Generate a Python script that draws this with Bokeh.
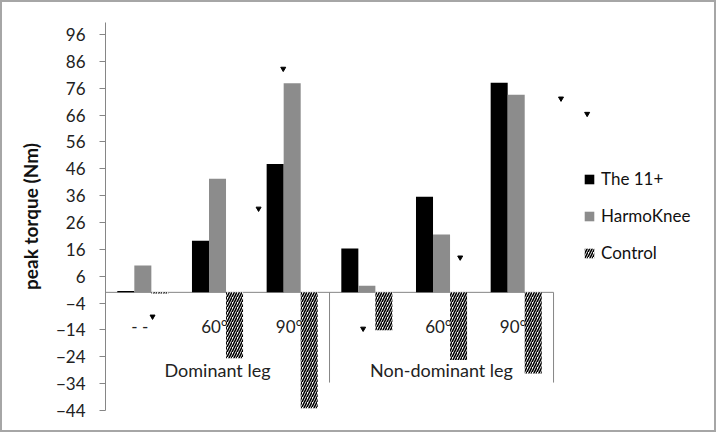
from bokeh.plotting import figure
from bokeh.models import Range1d, FixedTicker, Legend, LegendItem
from bokeh.embed import file_html
from bokeh.resources import INLINE
from bokeh.core.properties import value
import numpy as np

# ---- data ----
groups = ["Dominant leg", "Non-dominant leg"]
angle_labels = ["- -", "60°", "90°", "", "60°", "90°"]
series = ["The 11+", "HarmoKnee", "Control"]
the11 = [0.5, 19.2, 47.8, 16.3, 35.6, 78.1]
harmo = [10.0, 42.3, 77.9, 2.5, 21.5, 73.6]
control = [-0.4, -24.5, -43.2, -14.1, -25.2, -30.2]
y_ticks = list(range(-44, 97, 10))
# small significance-like marks scattered in the original picture
mark_cat = [0, 2, 2, 3, 4, 5, 5]
mark_off = [0.13, -0.45, -0.12, -0.05, 0.25, 0.6, 0.95]
mark_y = [-9.0, 31.2, 83.3, -13.5, 13.0, 72.2, 66.5]

FONT = "Lato"
n = len(angle_labels)
xc = np.arange(n) + 0.5
bw = 0.228

p = figure(width=716, height=432, output_backend="svg", toolbar_location=None,
           x_range=Range1d(0, 7.968), y_range=Range1d(-44, 100.5),
           x_axis_location=None, min_border_left=103, min_border_right=18,
           min_border_top=20, min_border_bottom=24)
p.styles = {"border": "2px solid #a6a6a6", "box-sizing": "border-box"}
p.outline_line_color = None
p.grid.grid_line_color = None
p.background_fill_color = "white"
p.border_fill_color = "white"

ax = p.yaxis[0]
ax.ticker = FixedTicker(ticks=y_ticks)
ax.minor_tick_line_color = None
ax.axis_line_color = "#868686"
ax.major_tick_line_color = "#868686"
ax.major_tick_out = 6
ax.major_tick_in = 0
ax.major_label_standoff = 14
ax.major_label_text_font = FONT
ax.major_label_text_font_size = "17px"
ax.major_label_text_color = "#222222"
ax.axis_label = "peak torque (Nm)"
ax.axis_label_text_font = FONT
ax.axis_label_text_font_size = "19px"
ax.axis_label_text_font_style = "bold"
ax.axis_label_text_color = "#111111"
ax.axis_label_standoff = 11

# category labels just below the zero line
p.text(x=xc, y=[0] * n, text=angle_labels, x_offset=-3, y_offset=34,
       text_font=value(FONT), text_font_size="17px", text_color="#222222",
       text_align="center", text_baseline="middle")
gx = [1.5, 4.5]
p.text(x=gx, y=[0, 0], text=groups, y_offset=78,
       text_font=value(FONT), text_font_size="18px", text_color="#222222",
       text_align="center", text_baseline="middle")

# zero line and group separators
p.segment(x0=[0], y0=[0], x1=[n], y1=[0], line_color="#868686", line_width=1)
p.segment(x0=[3, 6], y0=[0, 0], x1=[3, 6], y1=[-33.6, -33.6],
          line_color="#868686", line_width=1)

r1 = p.vbar(x=xc - bw, top=the11, bottom=0, width=bw, fill_color="black", line_color=None)
r2 = p.vbar(x=xc, top=harmo, bottom=0, width=bw, fill_color="#8c8c8c", line_color=None)
r3 = p.vbar(x=xc + bw, top=control, bottom=0, width=bw, fill_color="white", line_color=None,
            hatch_pattern="/", hatch_color="black", hatch_scale=5, hatch_weight=1.6)

mx = [xc[c] + o for c, o in zip(mark_cat, mark_off)]
p.scatter(x=mx, y=mark_y, marker="inverted_triangle", size=5, fill_color="black", line_color="black")

legend = Legend(items=[LegendItem(label=series[0], renderers=[r1]),
                       LegendItem(label=series[1], renderers=[r2]),
                       LegendItem(label=series[2], renderers=[r3])],
                location=(478, 147), padding=0, margin=0, spacing=16,
                glyph_width=12, glyph_height=12, label_height=20, label_standoff=6,
                label_text_font=FONT, label_text_font_size="17px",
                label_text_color="#111111",
                border_line_color=None, background_fill_alpha=0)
p.add_layout(legend)

open("out.html", "w").write(file_html(p, INLINE))
